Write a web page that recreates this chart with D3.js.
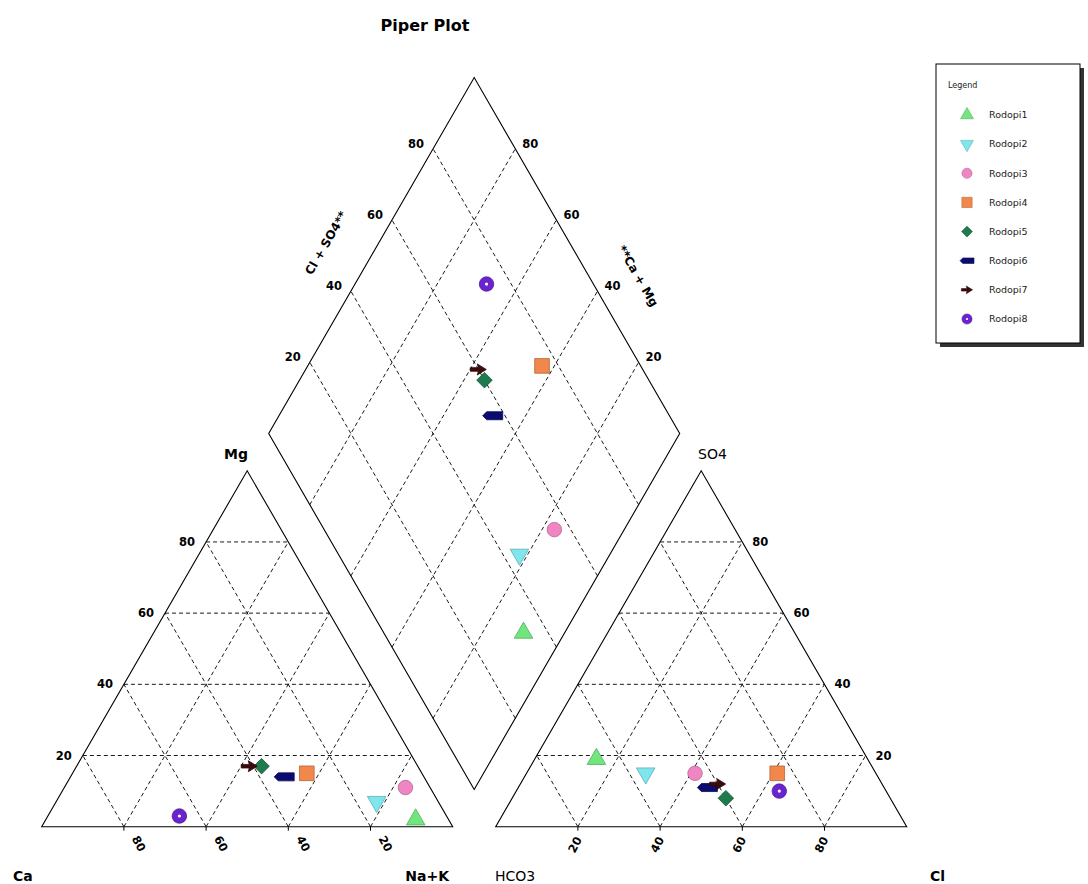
<!DOCTYPE html>
<html>
<head>
<meta charset="utf-8">
<script src="https://cdn.jsdelivr.net/npm/d3@7"></script>
<style>
  body { margin: 0; background: #fff; }
  text { font-family: "DejaVu Sans", sans-serif; }
</style>
</head>
<body>
<svg width="1088" height="884"></svg>
<script>
// samples and their ionic composition, percent of meq
const samples = ['Rodopi1', 'Rodopi2', 'Rodopi3', 'Rodopi4', 'Rodopi5', 'Rodopi6', 'Rodopi7', 'Rodopi8'];
const ca   = [8, 15, 6, 28, 38, 34, 41, 65];
const mg   = [2, 7, 11, 15, 17, 14, 17, 3];
const nak  = [90, 78, 83, 57, 45, 52, 42, 32];
const hco3 = [66, 56, 44, 24, 40, 43, 40, 26];
const so4  = [19, 15, 15, 15, 8, 11, 12, 10];
const cl   = [15, 29, 41, 61, 52, 46, 48, 64];
const colors = ['#72e57e', '#7fe6ee', '#ef85c2', '#f2874c', '#1f7a4e', '#0c0c70', '#3a0b0b', '#6a24cf'];
const gridTicks = [20, 40, 60, 80];

const svg = d3.select('svg');

const side = 411;
const h = side * Math.sqrt(3) / 2;
const gap = 43;
const baseY = 826.7;
const leftX0 = 41.7;
const rightX0 = leftX0 + side + gap;

const xL = d3.scaleLinear().domain([0, 100]).range([leftX0, leftX0 + side]);
const xR = d3.scaleLinear().domain([0, 100]).range([rightX0, rightX0 + side]);
const yT = d3.scaleLinear().domain([0, 100]).range([baseY, baseY - h]);

const bx = leftX0 + side + gap / 2;
const by = baseY - gap * Math.sqrt(3) / 2;
const xD = d3.scaleLinear().domain([-100, 100]).range([bx - side / 2, bx + side / 2]);
const yD = d3.scaleLinear().domain([0, 200]).range([by, by - 2 * h]);

// point helpers
const catPt = (m, n) => [xL(n + m / 2), yT(m)];      // m = Mg, n = Na+K
const anPt = (s, c) => [xR(c + s / 2), yT(s)];       // s = SO4, c = Cl
const diaPt = (s, c) => [xD(s - c), yD(s + c)];      // s = Cl+SO4, c = Ca+Mg

const line = d3.line();

function drawTriangle(pt) {
  const g = svg.append('g');
  g.append('path')
    .attr('d', line([pt(0, 0), pt(0, 100), pt(100, 0)]) + 'Z')
    .attr('fill', 'none').attr('stroke', '#000').attr('stroke-width', 1.1);
  gridTicks.forEach(t => {
    const segs = [
      [pt(t, 0), pt(t, 100 - t)],
      [pt(0, t), pt(100 - t, t)],
      [pt(0, 100 - t), pt(100 - t, 0)]
    ];
    segs.forEach(s => {
      g.append('path').attr('d', line(s))
        .attr('fill', 'none').attr('stroke', '#000')
        .attr('stroke-width', 0.9).attr('stroke-dasharray', '4,3');
    });
    // little ticks on the base
    const bp = pt(0, t);
    g.append('line').attr('x1', bp[0]).attr('x2', bp[0])
      .attr('y1', baseY).attr('y2', baseY + 4)
      .attr('stroke', '#000').attr('stroke-width', 1);
  });
  return g;
}

drawTriangle(catPt);
drawTriangle(anPt);

// diamond
const dg = svg.append('g');
dg.append('path')
  .attr('d', line([diaPt(0, 0), diaPt(0, 100), diaPt(100, 100), diaPt(100, 0)]) + 'Z')
  .attr('fill', 'none').attr('stroke', '#000').attr('stroke-width', 1.1);
gridTicks.forEach(t => {
  [[diaPt(t, 0), diaPt(t, 100)], [diaPt(0, t), diaPt(100, t)]].forEach(s => {
    dg.append('path').attr('d', line(s))
      .attr('fill', 'none').attr('stroke', '#000')
      .attr('stroke-width', 0.9).attr('stroke-dasharray', '4,3');
  });
});

// tick labels
const numStyle = sel => sel.attr('font-size', 11.5).attr('font-weight', 'bold').attr('fill', '#000');

gridTicks.forEach(t => {
  // Mg on left edge
  const p = catPt(t, 0);
  svg.append('text').call(numStyle)
    .attr('x', p[0] - 11).attr('y', p[1]).attr('dy', '0.35em')
    .attr('text-anchor', 'end').text(t);
  // SO4 on right edge
  const q = anPt(t, 100 - t);
  svg.append('text').call(numStyle)
    .attr('x', q[0] + 10).attr('y', q[1]).attr('dy', '0.35em')
    .attr('text-anchor', 'start').text(t);
  // Ca on the left base
  const bx1 = xL(100 - t) + 15, by1 = baseY + 17;
  svg.append('text').call(numStyle)
    .attr('text-anchor', 'middle').attr('dy', '0.35em')
    .attr('transform', `translate(${bx1},${by1}) rotate(62)`).text(t);
  // Cl on the right base
  const bx2 = xR(t) - 3, by2 = baseY + 18;
  svg.append('text').call(numStyle)
    .attr('text-anchor', 'middle').attr('dy', '0.35em')
    .attr('transform', `translate(${bx2},${by2}) rotate(-62)`).text(t);
  // diamond upper-left edge: Cl + SO4
  const d1 = diaPt(t, 100);
  svg.append('text').call(numStyle)
    .attr('x', d1[0] - 17).attr('y', d1[1] - 5).attr('dy', '0.35em')
    .attr('text-anchor', 'middle').text(t);
  // diamond upper-right edge: Ca + Mg
  const d2 = diaPt(100, t);
  svg.append('text').call(numStyle)
    .attr('x', d2[0] + 15).attr('y', d2[1] - 5).attr('dy', '0.35em')
    .attr('text-anchor', 'middle').text(t);
});

// axis names
const nameStyle = (sel, bold) => sel.attr('font-size', 14).attr('font-weight', bold ? 'bold' : 'normal').attr('fill', '#000');
svg.append('text').call(nameStyle, true).attr('x', 248).attr('y', 459).attr('text-anchor', 'end').text('Mg');
svg.append('text').call(nameStyle, false).attr('x', 698).attr('y', 459).attr('text-anchor', 'start').text('SO4');
svg.append('text').call(nameStyle, true).attr('x', 13).attr('y', 881).text('Ca');
svg.append('text').call(nameStyle, true).attr('x', 449).attr('y', 881).attr('text-anchor', 'end').text('Na+K');
svg.append('text').call(nameStyle, false).attr('x', 495).attr('y', 881).text('HCO3');
svg.append('text').call(nameStyle, true).attr('x', 930).attr('y', 881).text('Cl');

svg.append('text').attr('font-size', 12).attr('font-weight', 'bold')
  .attr('text-anchor', 'middle').attr('dy', '0.35em')
  .attr('transform', 'translate(326,243) rotate(-60)').text('Cl + SO4**');
svg.append('text').attr('font-size', 12).attr('font-weight', 'bold')
  .attr('text-anchor', 'middle').attr('dy', '0.35em')
  .attr('transform', 'translate(638,276) rotate(60)').text('**Ca + Mg');

svg.append('text').attr('x', 425).attr('y', 31)
  .attr('text-anchor', 'middle').attr('font-size', 16).attr('font-weight', 'bold')
  .text('Piper Plot');

// markers
const pentagon = 'M-10,0L-6,-4L10,-4L10,4L-6,4Z';
const arrow = 'M8,0L-1,-5.5L0,-1.8L-8,-1.8L-8,1.8L0,1.8L-1,5.5Z';

function drawMarker(parent, i, x, y, k) {
  const g = parent.append('g').attr('transform', `translate(${x},${y}) scale(${k})`);
  const col = colors[i];
  const edge = d3.color(col).darker(0.8);
  let shape;
  if (i === 0) shape = g.append('path').attr('d', d3.symbol(d3.symbolTriangle, 150)());
  else if (i === 1) shape = g.append('path').attr('d', d3.symbol(d3.symbolTriangle, 150)()).attr('transform', 'rotate(180)');
  else if (i === 2) shape = g.append('path').attr('d', d3.symbol(d3.symbolCircle, 165)());
  else if (i === 3) shape = g.append('path').attr('d', d3.symbol(d3.symbolSquare, 215)());
  else if (i === 4) shape = g.append('path').attr('d', d3.symbol(d3.symbolSquare, 120)()).attr('transform', 'rotate(45)');
  else if (i === 5) shape = g.append('path').attr('d', pentagon);
  else if (i === 6) shape = g.append('path').attr('d', arrow);
  else shape = g.append('path').attr('d', d3.symbol(d3.symbolCircle, 165)());
  shape.attr('fill', col).attr('stroke', edge).attr('stroke-width', 0.8);
  if (i === 7) g.append('circle').attr('r', 1.6).attr('fill', '#fff');
}

const markers = svg.append('g');
samples.forEach((s, i) => {
  const c = catPt(mg[i], nak[i]);
  drawMarker(markers, i, c[0], c[1], 1);
  const a = anPt(so4[i], cl[i]);
  drawMarker(markers, i, a[0], a[1], 1);
  const d = diaPt(cl[i] + so4[i], ca[i] + mg[i]);
  drawMarker(markers, i, d[0], d[1], 1);
});

// legend
const lg = svg.append('g');
lg.append('rect').attr('x', 940).attr('y', 68).attr('width', 144).attr('height', 279).attr('fill', '#333');
lg.append('rect').attr('x', 936).attr('y', 64).attr('width', 144).attr('height', 279)
  .attr('fill', '#fff').attr('stroke', '#000').attr('stroke-width', 1);
lg.append('text').attr('x', 948).attr('y', 88).attr('font-size', 8)
  .attr('font-family', 'Liberation Sans, Arial, sans-serif').attr('fill', '#222').text('Legend');
const legendY = d3.scalePoint().domain(samples).range([115, 319]);
samples.forEach((s, i) => {
  const y = legendY(s);
  drawMarker(lg, i, 967, y, 0.7);
  lg.append('text').attr('x', 989).attr('y', y).attr('dy', '0.35em')
    .attr('font-size', 9.5).attr('font-family', 'Liberation Sans, Arial, sans-serif')
    .attr('fill', '#222').text(s);
});
</script>
</body>
</html>
